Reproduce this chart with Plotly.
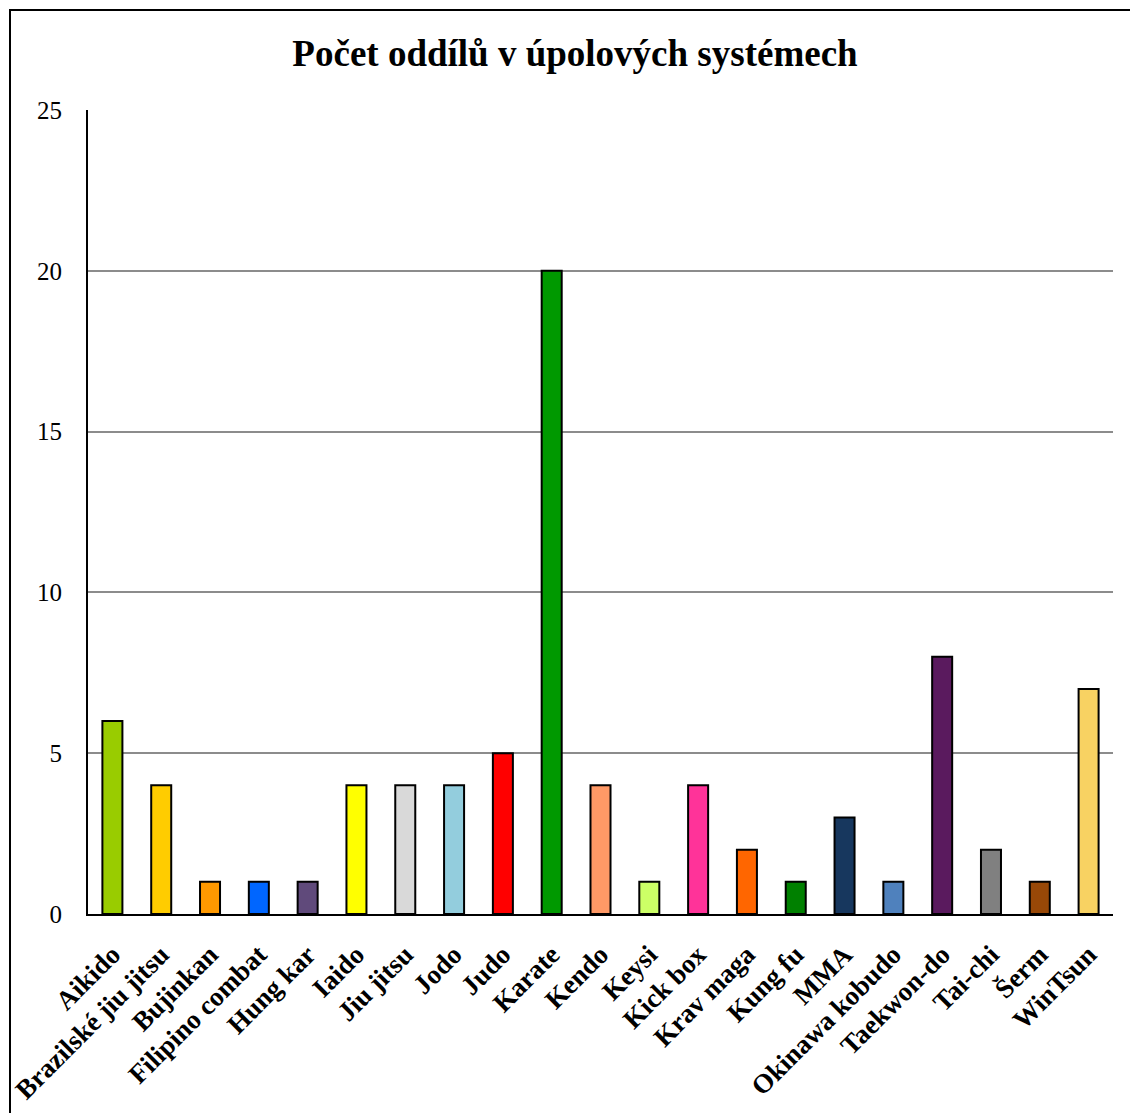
import plotly.graph_objects as go

categories = [
    "Aikido", "Brazilské jiu jitsu", "Bujinkan", "Filipino combat", "Hung kar",
    "Iaido", "Jiu jitsu", "Jodo", "Judo", "Karate", "Kendo", "Keysi", "Kick box",
    "Krav maga", "Kung fu", "MMA", "Okinawa kobudo", "Taekwon-do", "Tai-chi",
    "Šerm", "WinTsun",
]
counts = [6, 4, 1, 1, 1, 4, 4, 4, 5, 20, 4, 1, 4, 2, 1, 3, 1, 8, 2, 1, 7]
bar_colors = [
    "#99CC00", "#FFCC00", "#FF9900", "#0066FF", "#604A7B", "#FFFF00", "#D9D9D9",
    "#93CDDD", "#FF0000", "#009900", "#FF9966", "#CCFF66", "#FF3399", "#FF6600",
    "#008000", "#17375E", "#4F81BD", "#5A1A5E", "#808080", "#984807", "#F8D262",
]
y_ticks = [0, 5, 10, 15, 20, 25]

W, H = 1130, 1113
ML, MR, MT, MB = 88, 17, 110, 199
PW, PH = W - ML - MR, H - MT - MB

fig = go.Figure(
    go.Bar(
        x=categories,
        y=counts,
        marker=dict(color=bar_colors, line=dict(color="#000000", width=2)),
        hoverinfo="x+y",
    )
)

# outer frame around the chart area
fx0 = (10 - ML) / PW
fx1 = (W + 5 - ML) / PW
fy1 = (H - 10 - MB) / PH
fy0 = (-10 - MB) / PH
fig.add_shape(
    type="rect", xref="paper", yref="paper",
    x0=fx0, x1=fx1, y0=fy0, y1=fy1,
    line=dict(color="#000000", width=2), layer="above",
)

fig.update_layout(
    width=W, height=H,
    margin=dict(l=ML, r=MR, t=MT, b=MB),
    paper_bgcolor="white", plot_bgcolor="white",
    bargap=0.59,
    showlegend=False,
    title=dict(
        text="<b>Počet oddílů v úpolových systémech</b>",
        x=(575 - ML) / PW, xanchor="center", xref="paper",
        y=1 - 53 / H, yanchor="middle",
        font=dict(family="Liberation Serif", size=37, color="#000000"),
    ),
    font=dict(family="Liberation Serif", color="#000000"),
)

fig.update_yaxes(
    range=[0, 25], tickvals=y_ticks,
    showgrid=True, gridcolor="#8C8C8C", gridwidth=1.5,
    showline=True, linecolor="#000000", linewidth=2,
    zeroline=False, ticks="",
    ticklabelstandoff=19,
    tickfont=dict(family="Liberation Serif", size=25, color="#000000"),
    automargin=False,
    fixedrange=True,
)
fig.update_xaxes(
    showline=True, linecolor="#000000", linewidth=2,
    showgrid=False, ticks="",
    tickangle=-45,
    tickfont=dict(family="Liberation Serif", size=27, color="#000000", weight="bold"),
    ticklabelstandoff=12,
    automargin=False,
    fixedrange=True,
)

fig.write_html("out.html")
